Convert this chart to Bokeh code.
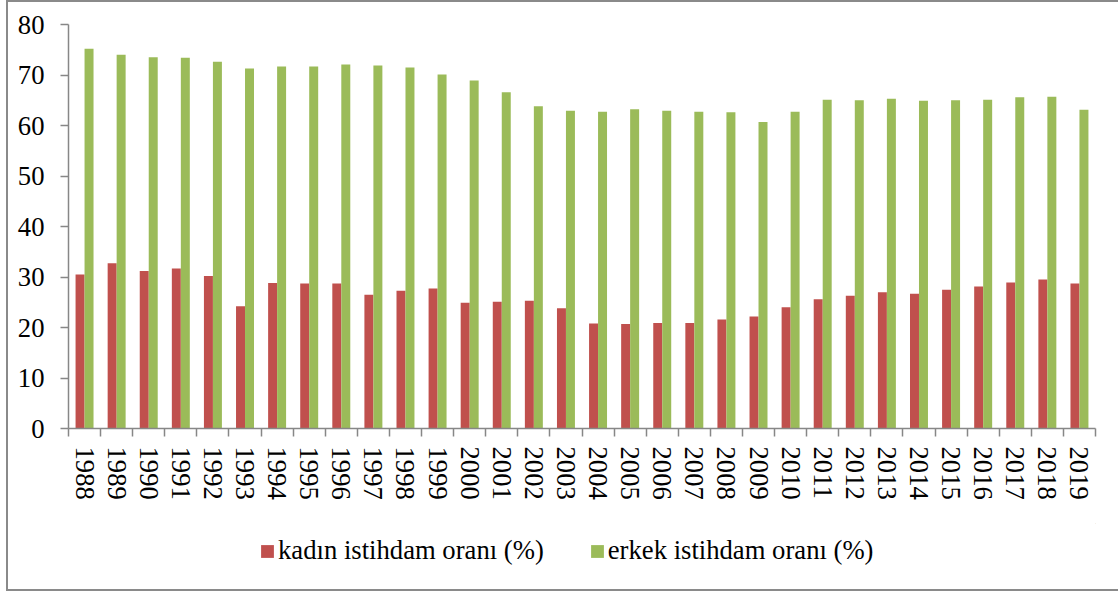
import math
from bokeh.plotting import figure
from bokeh.layouts import column
from bokeh.models import FixedTicker, Legend, LegendItem, LinearAxis, CDSView, IndexFilter, ColumnDataSource
from bokeh.embed import file_html
from bokeh.resources import INLINE

years = [str(y) for y in range(1988, 2020)]
kadin = [30.5, 32.7, 31.2, 31.7, 30.2, 24.2, 28.8, 28.7, 28.7, 26.5, 27.3, 27.7,
         24.9, 25.1, 25.3, 23.8, 20.8, 20.7, 20.9, 20.9, 21.6, 22.2, 24.0, 25.6,
         26.3, 27.0, 26.7, 27.5, 28.1, 28.9, 29.5, 28.7]
erkek = [75.2, 74.0, 73.5, 73.4, 72.6, 71.3, 71.7, 71.7, 72.1, 71.9, 71.5, 70.1,
         68.9, 66.6, 63.8, 62.9, 62.7, 63.2, 62.9, 62.7, 62.6, 60.7, 62.7, 65.1,
         65.0, 65.3, 64.9, 65.0, 65.1, 65.6, 65.7, 63.1]
labels = ["kadın istihdam oranı (%)", "erkek istihdam oranı (%)"]
y_ticks = [0, 10, 20, 30, 40, 50, 60, 70, 80]

RED = "#C0504D"
GREEN = "#9BBB59"
GRAY = "#878787"
FONT = "Liberation Serif"
FS = "26.67px"

n = len(years)
centers = [i + 0.5 for i in range(n)]
x_red = [c - 0.14 for c in centers]
x_green = [c + 0.14 for c in centers]
src = ColumnDataSource(dict(x_red=x_red, x_green=x_green, kadin=kadin, erkek=erkek))

W = 1110
p = figure(width=W, height=521, output_backend="svg", toolbar_location=None,
           x_range=(0, n), y_range=(0, 80), x_axis_type=None, y_axis_type=None,
           min_border_left=60, min_border_right=23, min_border_top=22,
           min_border_bottom=95)
p.outline_line_color = None
p.background_fill_color = "white"
p.border_fill_color = "white"

p.vbar(x="x_red", top="kadin", source=src, width=0.28, fill_color=RED, line_color=None)
p.vbar(x="x_green", top="erkek", source=src, width=0.28, fill_color=GREEN, line_color=None)

yaxis = LinearAxis(ticker=FixedTicker(ticks=y_ticks, minor_ticks=[]))
yaxis.axis_line_color = GRAY
yaxis.axis_line_width = 1.5
yaxis.major_tick_line_color = GRAY
yaxis.major_tick_line_width = 1.5
yaxis.major_tick_out = 8
yaxis.major_tick_in = 0
yaxis.minor_tick_line_color = None
yaxis.major_label_text_font = FONT
yaxis.major_label_text_font_size = FS
yaxis.major_label_text_color = "black"
yaxis.major_label_standoff = 16
p.add_layout(yaxis, "left")

xaxis = LinearAxis(ticker=FixedTicker(ticks=centers, minor_ticks=list(range(n + 1))))
xaxis.major_label_overrides = {c: y for c, y in zip(centers, years)}
xaxis.axis_line_color = GRAY
xaxis.axis_line_width = 1.5
xaxis.major_tick_line_color = None
xaxis.major_tick_out = 0
xaxis.major_tick_in = 0
xaxis.minor_tick_line_color = GRAY
xaxis.minor_tick_line_width = 1.5
xaxis.minor_tick_out = 8
xaxis.minor_tick_in = 0
xaxis.major_label_orientation = -math.pi / 2
xaxis.major_label_text_font = FONT
xaxis.major_label_text_font_size = FS
xaxis.major_label_text_color = "black"
xaxis.major_label_standoff = 10
p.add_layout(xaxis, "below")

p.ygrid.ticker = FixedTicker(ticks=y_ticks)
p.ygrid.grid_line_color = GRAY
p.ygrid.grid_line_width = 1.5
p.xgrid.grid_line_color = None

# legend strip: one bar of each series, kept far outside the strip's visible
# ranges, so that only the legend swatches show
p2 = figure(width=W, height=66, output_backend="svg", toolbar_location=None,
            x_range=(-3 * n, -2 * n), y_range=(-1000, -900),
            x_axis_type=None, y_axis_type=None, min_border=0)
p2.outline_line_color = None
p2.xgrid.grid_line_color = None
p2.ygrid.grid_line_color = None
one = CDSView(filter=IndexFilter(indices=[0]))
l1 = p2.vbar(x="x_red", top="kadin", source=src, view=one, width=0.28,
             fill_color=RED, line_color=None)
l2 = p2.vbar(x="x_green", top="erkek", source=src, view=one, width=0.28,
             fill_color=GREEN, line_color=None)

legend = Legend(items=[LegendItem(label=labels[0], renderers=[l1]),
                       LegendItem(label=labels[1], renderers=[l2])],
                location=(191, 23), orientation="horizontal")
legend.label_text_font = FONT
legend.label_text_font_size = FS
legend.label_text_color = "black"
legend.glyph_width = 16
legend.glyph_height = 16
legend.label_standoff = 3
legend.spacing = 45
legend.padding = 0
legend.margin = 0
legend.border_line_color = None
legend.background_fill_alpha = 0
p2.add_layout(legend, "center")

layout = column(p, p2, spacing=0)
layout.styles = {"border-left": "2px solid #8a8a8a", "border-top": "2px solid #8a8a8a",
                 "border-bottom": "2px solid #8a8a8a", "margin-left": "6px"}

open("out.html", "w").write(file_html(layout, INLINE))
